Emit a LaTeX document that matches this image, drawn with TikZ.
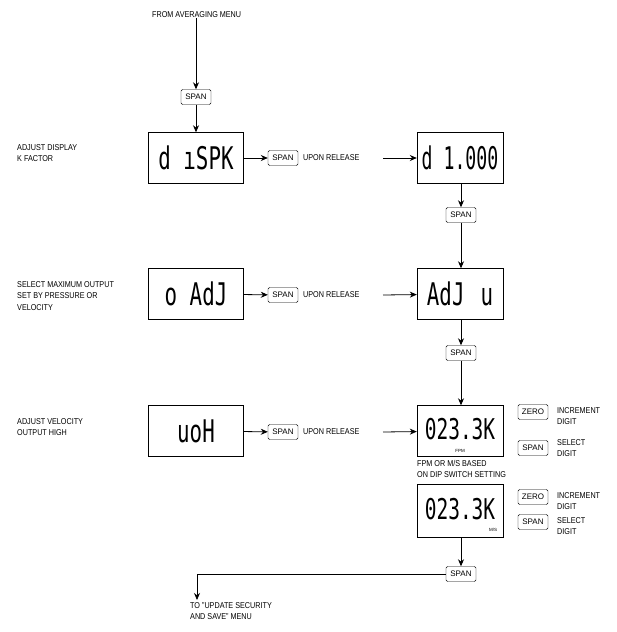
\documentclass[tikz,border=0pt]{standalone}
\usepackage{fontspec}
\usetikzlibrary{arrows.meta}
\setmainfont{Liberation Sans}
\newfontfamily\lcdfont{DejaVu Sans Mono}
\begin{document}
\begin{tikzpicture}[x=1pt,y=-1pt,
 lbl/.style={font=\fontsize{8.5}{11.5}\selectfont,align=left,inner sep=0pt},
 btn/.style={draw,rounded corners=1.5pt,minimum width=30pt,minimum height=15pt,inner sep=0pt,font=\fontsize{8}{9}\selectfont},
 disp/.style={draw,minimum width=95pt,minimum height=51pt,inner sep=0pt,font=\lcdfont\fontsize{26}{26}\selectfont},
 arr/.style={-{Stealth[length=7pt,width=6pt]},line width=0.8pt}]
\useasboundingbox (0,0) rectangle (617,632);
\node[lbl,anchor=west] (from) at (152,15) {\scalebox{0.85}[1]{FROM AVERAGING MENU}};
\node[btn] (s0) at (196,97) {SPAN};
\node[disp] (d1) at (196,158) {\scalebox{0.8}[1.2]{d ıSPK}};
\node[disp,minimum width=86pt] (d2) at (460,158) {\scalebox{0.7}[1.2]{d 1.000}};
\node[disp] (d3) at (196,294) {\scalebox{0.8}[1.2]{o AdJ}};
\node[disp,minimum width=86pt] (d4) at (460,294) {\scalebox{0.8}[1.2]{AdJ \,u}};
\node[disp] (d5) at (196,431) {\scalebox{0.8}[1.2]{uoH}};
\node[disp,minimum width=86pt] (d6) at (460,431) {\raisebox{5pt}{\scalebox{0.75}[1.1]{023.3K}}};
\node[disp,minimum width=86pt,minimum height=53pt] (d7) at (460,511) {\raisebox{5pt}{\scalebox{0.75}[1.1]{023.3K}}};
\node[font=\fontsize{4.5}{4}\selectfont] (fpm) at (460,451) {FPM};
\node[font=\fontsize{4.5}{4}\selectfont] (ms) at (493,530) {M/S};
\node[lbl,anchor=north west] at (17,144) {\scalebox{0.85}[1]{ADJUST DISPLAY}\\\scalebox{0.85}[1]{K FACTOR}};
\node[lbl,anchor=north west] at (17,281) {\scalebox{0.85}[1]{SELECT MAXIMUM OUTPUT}\\\scalebox{0.85}[1]{SET BY PRESSURE OR}\\\scalebox{0.85}[1]{VELOCITY}};
\node[lbl,anchor=north west] at (17,418) {\scalebox{0.85}[1]{ADJUST VELOCITY}\\\scalebox{0.85}[1]{OUTPUT HIGH}};
\foreach \n/\y in {a/158,b/295,c/432}{
  \node[btn] (sp\n) at (283,\y) {SPAN};
  \node[lbl,anchor=west] (ur\n) at (303,\y) {\scalebox{0.85}[1]{UPON RELEASE}};
  \coordinate (st\n) at (383,\y);
}
\node[btn] (s1) at (461,215) {SPAN};
\node[btn] (s2) at (461,353) {SPAN};
\node[btn] (z1) at (533,412) {ZERO};
\node[btn] (s3) at (533,448) {SPAN};
\node[btn] (z2) at (533,497) {ZERO};
\node[btn] (s4) at (533,522) {SPAN};
\node[lbl,anchor=west] at (557,416) {\scalebox{0.85}[1]{INCREMENT}\\\scalebox{0.85}[1]{DIGIT}};
\node[lbl,anchor=west] at (557,448) {\scalebox{0.85}[1]{SELECT}\\\scalebox{0.85}[1]{DIGIT}};
\node[lbl,anchor=west] at (557,501) {\scalebox{0.85}[1]{INCREMENT}\\\scalebox{0.85}[1]{DIGIT}};
\node[lbl,anchor=west] at (557,526) {\scalebox{0.85}[1]{SELECT}\\\scalebox{0.85}[1]{DIGIT}};
\node[lbl,anchor=north west] at (417,460) {\scalebox{0.85}[1]{FPM OR M/S BASED}\\\scalebox{0.85}[1]{ON DIP SWITCH SETTING}};
\node[btn] (s5) at (461,574) {SPAN};
\node[lbl,anchor=north west] (to) at (190,602) {\scalebox{0.85}[1]{TO "UPDATE SECURITY}\\\scalebox{0.85}[1]{AND SAVE" MENU}};
\coordinate (end) at (197,600);
\draw[arr] (from.south -| s0) -- (s0);
\draw[arr] (s0) -- (d1);
\draw[arr] (d1) -- (spa);
\draw[arr] (sta) -- (d2);
\draw[arr] (d2.south -| s1) -- (s1);
\draw[arr] (s1) -- (d4.north -| s1);
\draw[arr] (d3) -- (spb);
\draw[arr] (stb) -- (d4);
\draw[arr] (d4.south -| s2) -- (s2);
\draw[arr] (s2) -- (d6.north -| s2);
\draw[arr] (d5) -- (spc);
\draw[arr] (stc) -- (d6);
\draw[arr] (d7.south -| s5) -- (s5);
\draw[arr] (s5.west) -| (end);
\end{tikzpicture}
\end{document}
